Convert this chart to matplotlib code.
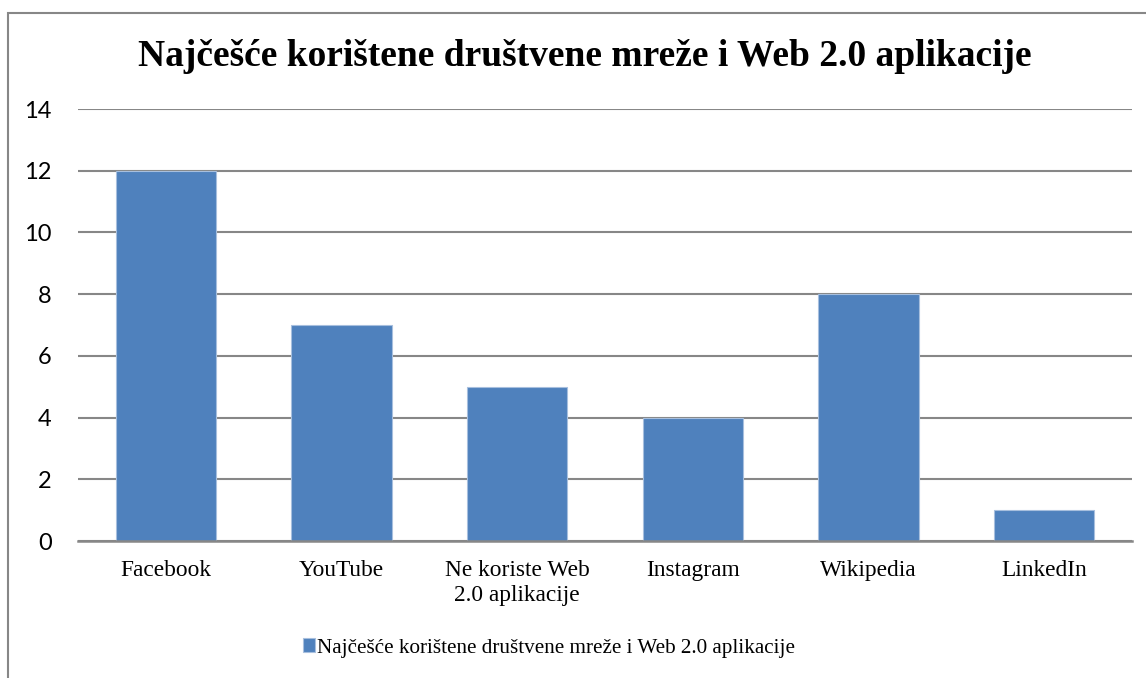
import matplotlib
matplotlib.use("Agg")
import matplotlib.pyplot as plt
from matplotlib.patches import Rectangle

# Podaci sa grafikona
kategorije = ["Facebook", "YouTube", "Ne koriste Web\n2.0 aplikacije", "Instagram", "Wikipedia", "LinkedIn"]
vrijednosti = [12, 7, 5, 4, 8, 1]
y_tickovi = [0, 2, 4, 6, 8, 10, 12, 14]
naslov = "Najčešće korištene društvene mreže i Web 2.0 aplikacije"
serija = "Najčešće korištene društvene mreže i Web 2.0 aplikacije"

plava = "#4F81BD"
siva = "#878787"
serif = "Liberation Serif"

fig = plt.figure(figsize=(11.46, 6.78), dpi=100)

# okvir oko grafikona (desna i donja ivica su odsjecene)
okvir = Rectangle((8 / 1146, -0.05), 1.2, 1 - 13 / 678 + 0.05,
                  transform=fig.transFigure, fill=False, edgecolor=siva, linewidth=1.5)
fig.add_artist(okvir)

ax = fig.add_axes([78 / 1146, 1 - 541 / 678, (1132 - 78) / 1146, (541 - 109) / 678])

x = range(len(kategorije))
ax.bar(x, vrijednosti, width=0.57, color=plava, edgecolor="#A7BFDE", linewidth=0.8,
       label=serija, zorder=3)

ax.set_xlim(-0.5, len(kategorije) - 0.5)
ax.set_ylim(0, 14)
ax.set_yticks(y_tickovi)
ax.set_yticklabels([str(v) for v in y_tickovi], fontsize=17, family="Lato")
ax.set_xticks(list(x))
ax.set_xticklabels(kategorije, fontsize=16.8, family=serif, linespacing=1.2)
ax.tick_params(axis="both", length=0)
ax.tick_params(axis="y", pad=19)
ax.tick_params(axis="x", pad=14)

ax.grid(axis="y", color=siva, linewidth=1.5, zorder=0)
for s in ["top", "right", "left"]:
    ax.spines[s].set_visible(False)
ax.spines["bottom"].set_color(siva)
ax.spines["bottom"].set_linewidth(1.8)
ax.spines["bottom"].set_zorder(4)

fig.text(585 / 1146, 1 - 57 / 678, naslov, ha="center", va="center",
         fontsize=27, fontweight="bold", family=serif)

fig.legend(loc="center", bbox_to_anchor=(549 / 1146, 1 - 648 / 678), frameon=False,
           prop={"family": serif, "size": 15.2}, handlelength=0.6, handleheight=0.6,
           handletextpad=0.1, borderpad=0)

fig.savefig("out.png", dpi=100)
